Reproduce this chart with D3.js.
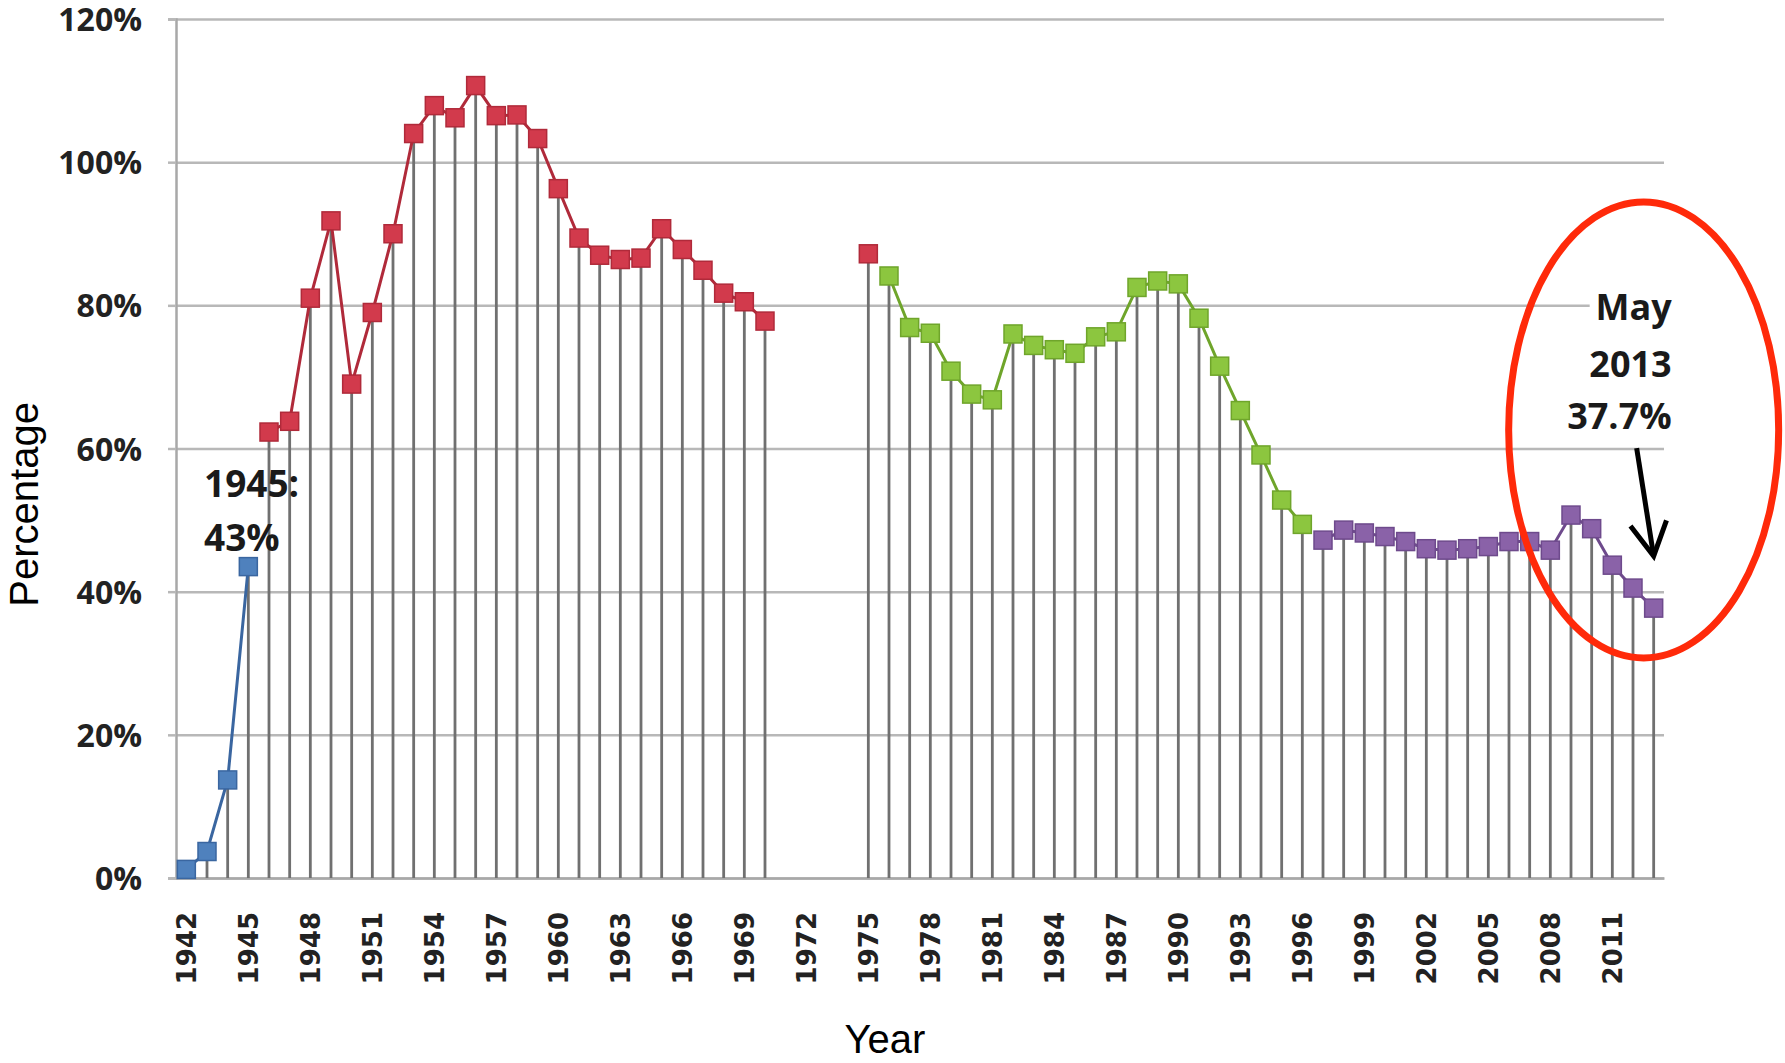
<!DOCTYPE html>
<html>
<head>
<meta charset="utf-8">
<script src="https://cdn.jsdelivr.net/npm/d3@7"></script>
<style>
  body { margin: 0; background: #fff; }
  svg { display: block; }
</style>
</head>
<body>
<div id="plot"></div>
<script>
// SVG area
var svgWidth = 1785;
var svgHeight = 1063;

// plot box (pixels inside the svg)
var margin = { top: 19, right: 121, bottom: 185, left: 176 };
var chartWidth = svgWidth - margin.left - margin.right;
var chartHeight = svgHeight - margin.top - margin.bottom;

// categories: one per year, 1942 .. 2013
var years = d3.range(1942, 2014);
var tickYears = [1942, 1945, 1948, 1951, 1954, 1957, 1960, 1963, 1966, 1969, 1972,
  1975, 1978, 1981, 1984, 1987, 1990, 1993, 1996, 1999, 2002, 2005, 2008, 2011];
var yTicks = [0, 20, 40, 60, 80, 100, 120];

// series (percent)
var blueYears = [1942, 1943, 1944, 1945];
var blueValues = [1.2, 3.7, 13.7, 43.5];

var redYears = [1946, 1947, 1948, 1949, 1950, 1951, 1952, 1953, 1954, 1955, 1956, 1957,
  1958, 1959, 1960, 1961, 1962, 1963, 1964, 1965, 1966, 1967, 1968, 1969, 1970,
  1971, 1972, 1973, 1974, 1975];
var redValues = [62.3, 63.8, 81.0, 91.8, 69.0, 79.0, 90.0, 104.0, 107.9, 106.2, 110.7, 106.5,
  106.6, 103.3, 96.3, 89.4, 87.0, 86.4, 86.6, 90.7, 87.8, 84.9, 81.7, 80.5, 77.8,
  null, null, null, null, 87.2];

var greenYears = [1976, 1977, 1978, 1979, 1980, 1981, 1982, 1983, 1984, 1985, 1986,
  1987, 1988, 1989, 1990, 1991, 1992, 1993, 1994, 1995, 1996];
var greenValues = [84.1, 76.9, 76.1, 70.8, 67.6, 66.8, 76.0, 74.4, 73.8, 73.3, 75.6,
  76.3, 82.5, 83.4, 83.0, 78.2, 71.5, 65.3, 59.1, 52.8, 49.4];

var purpleYears = [1997, 1998, 1999, 2000, 2001, 2002, 2003, 2004, 2005, 2006, 2007,
  2008, 2009, 2010, 2011, 2012, 2013];
var purpleValues = [47.2, 48.6, 48.2, 47.7, 47.0, 46.0, 45.8, 46.0, 46.3, 47.0, 47.0,
  45.8, 50.7, 48.8, 43.7, 40.5, 37.7];

// zip years + values into point lists
function zip(ys, vs) {
  return ys.map(function(yr, i) { return { year: yr, value: vs[i] }; });
}
var series = [
  { name: "blue", color: "#4f81bd", stroke: "#3a66a0", points: zip(blueYears, blueValues) },
  { name: "red", color: "#d23a4c", stroke: "#b02a3a", points: zip(redYears, redValues) },
  { name: "green", color: "#8cc63f", stroke: "#6fa52b", points: zip(greenYears, greenValues) },
  { name: "purple", color: "#8a62a8", stroke: "#6e4a8c", points: zip(purpleYears, purpleValues) }
];

var svg = d3.select("#plot")
  .append("svg")
  .attr("width", svgWidth)
  .attr("height", svgHeight);

svg.append("rect")
  .attr("width", svgWidth)
  .attr("height", svgHeight)
  .attr("fill", "#fff");

var chartGroup = svg.append("g")
  .attr("transform", `translate(${margin.left}, ${margin.top})`);

// scales
var xBandScale = d3.scaleBand()
  .domain(years)
  .range([0, chartWidth])
  .padding(0);
var xc = function(yr) { return xBandScale(yr) + xBandScale.bandwidth() / 2; };

var yLinearScale = d3.scaleLinear()
  .domain([0, 120])
  .range([chartHeight, 0]);

// horizontal gridlines
chartGroup.append("g")
  .attr("class", "grid")
  .call(d3.axisLeft(yLinearScale).tickValues(yTicks).tickSize(-chartWidth).tickFormat(""))
  .call(function(g) {
    g.select(".domain").remove();
    g.selectAll("line").attr("stroke", "#b8b8b8").attr("stroke-width", 2.5);
  });

// left axis with labels
chartGroup.append("g")
  .call(d3.axisLeft(yLinearScale).tickValues(yTicks).tickSize(8).tickPadding(26)
    .tickFormat(function(d) { return d + "%"; }))
  .call(function(g) {
    g.select(".domain").attr("stroke", "#a8a8a8").attr("stroke-width", 2.5);
    g.selectAll("line").attr("stroke", "#b8b8b8").attr("stroke-width", 2.5);
    g.selectAll("text")
      .attr("fill", "#222")
      .attr("dy", "0.36em")
      .style("font-family", "'Open Sans', sans-serif")
      .style("font-weight", "bold")
      .style("font-size", "32px");
  });

// bottom axis
chartGroup.append("g")
  .attr("transform", "translate(0, " + chartHeight + ")")
  .call(d3.axisBottom(xBandScale).tickValues(tickYears).tickSize(0).tickSizeOuter(0))
  .call(function(g) {
    g.select(".domain").attr("stroke", "#a8a8a8").attr("stroke-width", 2.5);
    g.selectAll("text")
      .attr("fill", "#222")
      .style("font-family", "'DejaVu Sans', Verdana, sans-serif")
      .style("font-weight", "bold")
      .style("font-size", "26px")
      .style("text-anchor", "end")
      .attr("x", 0)
      .attr("y", 0)
      .attr("dx", "-34")
      .attr("dy", "0.36em")
      .attr("transform", "rotate(-90)");
  });

// drop lines from every point to the axis
var allPoints = [];
series.forEach(function(s) {
  s.points.forEach(function(p) { if (p.value != null) allPoints.push(p); });
});
chartGroup.append("g")
  .selectAll("line")
  .data(allPoints)
  .enter()
  .append("line")
  .attr("x1", function(d) { return xc(d.year); })
  .attr("x2", function(d) { return xc(d.year); })
  .attr("y1", function(d) { return yLinearScale(d.value); })
  .attr("y2", chartHeight)
  .attr("stroke", "#707070")
  .attr("stroke-width", 2.8);

// lines + square markers
var drawLine = d3.line()
  .defined(function(d) { return d.value != null; })
  .x(function(d) { return xc(d.year); })
  .y(function(d) { return yLinearScale(d.value); });

var msize = 18;
series.forEach(function(s) {
  chartGroup.append("path")
    .attr("d", drawLine(s.points))
    .attr("fill", "none")
    .attr("stroke", s.stroke)
    .attr("stroke-width", 3);

  chartGroup.append("g")
    .selectAll("rect")
    .data(s.points.filter(function(p) { return p.value != null; }))
    .enter()
    .append("rect")
    .attr("x", function(d) { return xc(d.year) - msize / 2; })
    .attr("y", function(d) { return yLinearScale(d.value) - msize / 2; })
    .attr("width", msize)
    .attr("height", msize)
    .attr("fill", s.color)
    .attr("stroke", s.stroke)
    .attr("stroke-width", 1.5);
});

// axis titles
svg.append("text")
  .attr("transform", "translate(38, " + (margin.top + chartHeight * 0.565) + ") rotate(-90)")
  .style("text-anchor", "middle")
  .style("font-family", "'Liberation Sans', Arial, sans-serif")
  .style("font-size", "40px")
  .attr("fill", "#000")
  .text("Percentage");

svg.append("text")
  .attr("x", 885)
  .attr("y", 1053)
  .style("text-anchor", "middle")
  .style("font-family", "'Liberation Sans', Arial, sans-serif")
  .style("font-size", "40px")
  .attr("fill", "#000")
  .text("Year");

// annotation: 1945
var noteFont = "'Open Sans', sans-serif";
var note45 = chartGroup.append("text")
  .attr("x", xc(1943) - 3)
  .attr("y", yLinearScale(53.2))
  .style("font-family", noteFont)
  .style("font-weight", "bold")
  .style("font-size", "37px")
  .attr("fill", "#1a1a1a");
note45.append("tspan").text("1945:");
note45.append("tspan").attr("x", xc(1943) - 3).attr("dy", 54).text("43%");

// annotation: May 2013 (white text box hides the grid behind it)
var noteX = xc(2013) + 18;
chartGroup.append("rect")
  .attr("x", noteX - 82)
  .attr("y", yLinearScale(83.5))
  .attr("width", 90)
  .attr("height", 50)
  .attr("fill", "#fff");
var note13 = chartGroup.append("text")
  .attr("x", noteX)
  .attr("y", yLinearScale(78.0))
  .style("font-family", noteFont)
  .style("font-weight", "bold")
  .style("font-size", "36px")
  .style("text-anchor", "end")
  .attr("fill", "#1a1a1a");
note13.append("tspan").text("May");
note13.append("tspan").attr("x", noteX).attr("dy", 57).text("2013");
note13.append("tspan").attr("x", noteX).attr("dy", 52).text("37.7%");

// arrow pointing at the last point
var tip = [xc(2013), yLinearScale(37.7) - 52];
var tail = [xc(2013) - 17, yLinearScale(37.7) - 160];
var ang = Math.atan2(tip[1] - tail[1], tip[0] - tail[0]);
var headLen = 38, headAng = 0.5;
chartGroup.append("line")
  .attr("x1", tail[0]).attr("y1", tail[1])
  .attr("x2", tip[0]).attr("y2", tip[1])
  .attr("stroke", "#000").attr("stroke-width", 5);
chartGroup.append("path")
  .attr("d", d3.line()([
    [tip[0] - headLen * Math.cos(ang - headAng), tip[1] - headLen * Math.sin(ang - headAng)],
    tip,
    [tip[0] - headLen * Math.cos(ang + headAng), tip[1] - headLen * Math.sin(ang + headAng)]
  ]))
  .attr("fill", "none")
  .attr("stroke", "#000")
  .attr("stroke-width", 5);

// red ellipse round the recent years
chartGroup.append("ellipse")
  .attr("cx", xc(2013) - 10)
  .attr("cy", yLinearScale(62.6))
  .attr("rx", 135)
  .attr("ry", 228)
  .attr("fill", "none")
  .attr("stroke", "#ff2a0a")
  .attr("stroke-width", 7);
</script>
</body>
</html>
